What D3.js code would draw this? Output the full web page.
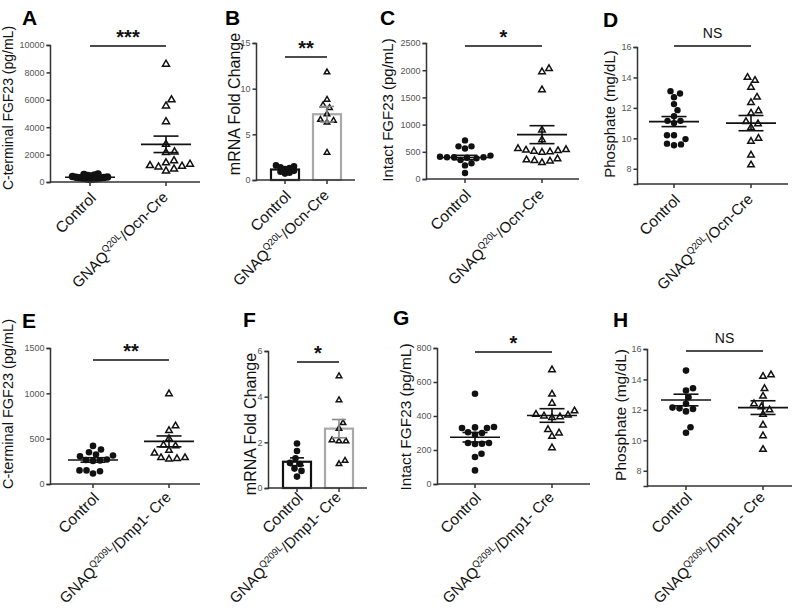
<!DOCTYPE html>
<html>
<head>
<meta charset="utf-8">
<script src="https://cdn.jsdelivr.net/npm/d3@7"></script>
<style>
  body { margin: 0; background: #fff; }
  svg { font-family: "Liberation Sans", Arial, sans-serif; }
</style>
</head>
<body>
<div id="chart"></div>
<script>
// group names (x categories)
var groups = ["Control", "GNAQ"];

// A: C-terminal FGF23, Ocn-Cre
var aControl = [580, 540, 500, 470, 430, 400, 370, 350, 330, 310, 290, 270, 250, 230, 210, 190];
var aGnaq = [8600, 6000, 5550, 4400, 2750, 2200, 2150, 1550, 1400, 1300, 1200, 1150, 1100, 950, 800];
var aMean = [350, 2750], aSem = [30, 600];
var aTicks = [0, 2000, 4000, 6000, 8000, 10000];

// B: mRNA fold change, Ocn-Cre
var bControl = [1.6, 1.5, 1.4, 1.3, 1.2, 1.0, 0.9, 0.8, 0.7];
var bGnaq = [11.8, 8.8, 8.2, 7.9, 7.2, 6.6, 6.5, 6.3, 3.0];
var bMean = [1.15, 7.2], bSem = [0.12, 0.85];
var bTicks = [0, 5, 10, 15];

// C: intact FGF23, Ocn-Cre
var cControl = [710, 600, 600, 560, 430, 410, 400, 400, 400, 390, 380, 350, 290, 250, 110];
var cGnaq = [2030, 1970, 1640, 900, 720, 560, 540, 530, 520, 510, 500, 490, 370, 350, 340, 330, 300];
var cMean = [395, 815], cSem = [40, 165];
var cTicks = [0, 500, 1000, 1500, 2000, 2500];

// D: phosphate, Ocn-Cre
var dControl = [13.1, 12.95, 12.7, 12.25, 11.85, 11.45, 11.15, 11.15, 11.0, 10.2, 10.2, 9.95, 9.65, 9.6, 9.55];
var dGnaq = [14.0, 13.8, 13.35, 12.7, 12.35, 11.8, 11.65, 11.1, 10.95, 10.7, 10.0, 9.8, 8.9, 8.25];
var dMean = [11.1, 11.0], dSem = [0.33, 0.5];
var dTicks = [8, 10, 12, 14, 16];

// E: C-terminal FGF23, Dmp1-Cre
var eControl = [420, 380, 350, 325, 315, 305, 270, 265, 260, 255, 150, 150, 140, 115];
var eGnaq = [995, 640, 590, 500, 430, 420, 370, 340, 290, 290, 280, 275];
var eMean = [265, 470], eSem = [25, 60];
var eTicks = [0, 500, 1000, 1500];

// F: mRNA fold change, Dmp1-Cre
var fControl = [1.95, 1.62, 1.3, 1.1, 1.05, 0.85, 0.75, 0.5];
var fGnaq = [4.9, 3.85, 2.85, 2.6, 2.1, 2.05, 2.05, 1.2, 1.05];
var fMean = [1.15, 2.6], fSem = [0.17, 0.4];
var fTicks = [0, 2, 4, 6];

// G: intact FGF23, Dmp1-Cre
var gControl = [531, 335, 333, 329, 329, 304, 300, 290, 241, 241, 237, 235, 178, 159, 80];
var gGnaq = [672, 528, 475, 430, 410, 405, 400, 395, 390, 320, 300, 280, 213];
var gMean = [275, 403], gSem = [28, 40];
var gTicks = [0, 200, 400, 600, 800];

// H: phosphate, Dmp1-Cre
var hControl = [14.58, 13.42, 13.27, 12.83, 12.4, 12.15, 12.1, 12.06, 11.9, 10.86, 10.5];
var hGnaq = [14.3, 14.2, 13.4, 12.9, 12.4, 12.2, 12.0, 11.7, 11.0, 10.3, 9.4];
var hMean = [12.65, 12.15], hSem = [0.38, 0.45];
var hTicks = [8, 10, 12, 14, 16];

var topLabel = ["GNAQ", "Q20L", "/Ocn-Cre"];
var botLabel = ["GNAQ", "Q209L", "/Dmp1- Cre"];

// layout of each panel
var panels = [
  {key: "A", ctrl: aControl, mut: aGnaq, mean: aMean, sem: aSem, ticks: aTicks, domain: [0, 10000],
   title: "C-terminal FGF23 (pg/mL)", sig: "***", mutLabel: topLabel,
   x0: 50, x1: 200, yTop: 45, yBot: 182, cx: [90, 166], titleSize: 14, tx: 13, ty: 108,
   lx: 22, ly: 25, sigY: 46, r: 3.8, tri: 7, bars: false, gap: 3.4},
  {key: "B", ctrl: bControl, mut: bGnaq, mean: bMean, sem: bSem, ticks: bTicks, domain: [0, 15],
   title: "mRNA Fold Change", sig: "**", mutLabel: topLabel,
   x0: 256, x1: 355, yTop: 43, yBot: 180, cx: [285, 327], titleSize: 16, tx: 240, ty: 104,
   lx: 225, ly: 25, sigY: 57, r: 3.3, tri: 5.5, bars: true, gap: 4.5},
  {key: "C", ctrl: cControl, mut: cGnaq, mean: cMean, sem: cSem, ticks: cTicks, domain: [0, 2500],
   title: "Intact FGF23 (pg/mL)", sig: "*", mutLabel: topLabel,
   x0: 426, x1: 579, yTop: 43, yBot: 179, cx: [465, 542], titleSize: 15, tx: 393, ty: 110,
   lx: 380, ly: 25, sigY: 46, r: 3.2, tri: 6.5, bars: false, gap: 6.8},
  {key: "D", ctrl: dControl, mut: dGnaq, mean: dMean, sem: dSem, ticks: dTicks, domain: [7, 16],
   title: "Phosphate (mg/dL)", sig: "NS", mutLabel: topLabel,
   x0: 637, x1: 788, yTop: 47, yBot: 184, cx: [674, 751], titleSize: 15, tx: 615, ty: 114,
   lx: 603, ly: 27, sigY: 46, r: 3.2, tri: 6.5, bars: false, gap: 6.8},
  {key: "E", ctrl: eControl, mut: eGnaq, mean: eMean, sem: eSem, ticks: eTicks, domain: [0, 1500],
   title: "C-terminal FGF23 (pg/mL)", sig: "**", mutLabel: botLabel,
   x0: 50, x1: 200, yTop: 348, yBot: 484, cx: [93, 169], titleSize: 14.5, tx: 13, ty: 404,
   lx: 22, ly: 328, sigY: 360, r: 3.3, tri: 6.5, bars: false, gap: 7},
  {key: "F", ctrl: fControl, mut: fGnaq, mean: fMean, sem: fSem, ticks: fTicks, domain: [0, 6],
   title: "mRNA Fold Change", sig: "*", mutLabel: botLabel,
   x0: 268, x1: 367, yTop: 351, yBot: 488, cx: [297, 339], titleSize: 16, tx: 256, ty: 424,
   lx: 243, ly: 327, sigY: 362, r: 3.3, tri: 5.5, bars: true, gap: 7},
  {key: "G", ctrl: gControl, mut: gGnaq, mean: gMean, sem: gSem, ticks: gTicks, domain: [0, 800],
   title: "Intact FGF23 (pg/mL)", sig: "*", mutLabel: botLabel,
   x0: 437, x1: 590, yTop: 348, yBot: 484, cx: [475, 552], titleSize: 15.4, tx: 411, ty: 417,
   lx: 393, ly: 325, sigY: 352, r: 3.3, tri: 6.5, bars: false, gap: 7},
  {key: "H", ctrl: hControl, mut: hGnaq, mean: hMean, sem: hSem, ticks: hTicks, domain: [7, 16],
   title: "Phosphate (mg/dL)", sig: "NS", mutLabel: botLabel,
   x0: 647, x1: 792, yTop: 349, yBot: 486, cx: [686, 763], titleSize: 15.5, tx: 626, ty: 415,
   lx: 613, ly: 327, sigY: 351, r: 3.3, tri: 6.5, bars: false, gap: 7}
];

var svg = d3.select("#chart").append("svg")
  .attr("width", 796)
  .attr("height", 610);

// simple beeswarm: lowest points first, pushed sideways until they stop overlapping
function swarm(vals, y, cx, dist) {
  var pts = vals.map(function(v) { return {v: v, y: y(v)}; })
    .sort(function(a, b) { return b.y - a.y; });
  var placed = [];
  pts.forEach(function(p) {
    for (var k = 0; k < 400; k++) {
      var off = (k % 2 ? 1 : -1) * Math.ceil(k / 2) * 0.5;
      var x = cx + off;
      var ok = placed.every(function(q) {
        return (q.x - x) * (q.x - x) + (q.y - p.y) * (q.y - p.y) >= dist * dist;
      });
      if (ok) { p.x = x; break; }
    }
    placed.push(p);
  });
  return placed;
}

panels.forEach(function(p) {
  var g = svg.append("g");
  var y = d3.scaleLinear().domain(p.domain).range([p.yBot, p.yTop]);
  var x = d3.scaleOrdinal().domain(groups).range(p.cx);

  // bars (mRNA panels only)
  if (p.bars) {
    var bw = 28;
    g.selectAll(".bar").data(groups).enter().append("rect")
      .attr("x", function(d) { return x(d) - bw / 2; })
      .attr("y", function(d, i) { return y(p.mean[i]); })
      .attr("width", bw)
      .attr("height", function(d, i) { return y(p.domain[0]) - y(p.mean[i]); })
      .attr("fill", "#fff")
      .attr("stroke", function(d, i) { return i ? "#a8a8a8" : "#111"; })
      .attr("stroke-width", 2.2);
  }

  // points
  var ctrlPts = swarm(p.ctrl, y, x("Control"), p.gap);
  g.selectAll(".dot").data(ctrlPts).enter().append("circle")
    .attr("cx", function(d) { return d.x; })
    .attr("cy", function(d) { return d.y; })
    .attr("r", p.r)
    .attr("fill", "#111");

  var mutPts = swarm(p.mut, y, x("GNAQ"), p.tri + 1.2);
  var tri = d3.symbol().type(d3.symbolTriangle).size(0.433 * p.tri * p.tri);
  g.selectAll(".tri").data(mutPts).enter().append("path")
    .attr("d", tri)
    .attr("transform", function(d) { return "translate(" + d.x + "," + d.y + ")"; })
    .attr("fill", "#fff")
    .attr("stroke", "#111")
    .attr("stroke-width", 1.5);

  // mean and SEM
  groups.forEach(function(gr, i) {
    var cx = x(gr), m = y(p.mean[i]), hi = y(p.mean[i] + p.sem[i]), lo = y(p.mean[i] - p.sem[i]);
    var half = p.bars ? 7 : 25, cap = p.bars ? 7 : 12.5;
    var col = (p.bars && i) ? "#8a8a8a" : "#111";
    if (!p.bars) {
      g.append("line").attr("x1", cx - half).attr("x2", cx + half).attr("y1", m).attr("y2", m)
        .attr("stroke", col).attr("stroke-width", 1.6);
    }
    g.append("line").attr("x1", cx).attr("x2", cx).attr("y1", hi).attr("y2", lo)
      .attr("stroke", col).attr("stroke-width", 1.6);
    [hi, lo].forEach(function(yy) {
      g.append("line").attr("x1", cx - cap).attr("x2", cx + cap).attr("y1", yy).attr("y2", yy)
        .attr("stroke", col).attr("stroke-width", 1.6);
    });
  });

  // y axis
  var yAxis = g.append("g")
    .attr("transform", "translate(" + p.x0 + ",0)")
    .call(d3.axisLeft(y).tickValues(p.ticks).tickSize(3.5).tickPadding(2)
      .tickFormat(function(d) { return String(d); }));
  yAxis.selectAll("path, line").attr("stroke", "#333").attr("stroke-width", 1.5);
  yAxis.selectAll("text").attr("font-size", 9).attr("fill", "#555")
    .attr("font-family", "Liberation Sans, Arial, sans-serif");

  // x axis
  var axY = y(p.domain[0]);
  g.append("line").attr("x1", p.x0).attr("x2", p.x1).attr("y1", axY).attr("y2", axY)
    .attr("stroke", "#333").attr("stroke-width", 1.5);
  g.selectAll(".xt").data(groups).enter().append("line")
    .attr("x1", function(d) { return x(d); }).attr("x2", function(d) { return x(d); })
    .attr("y1", axY).attr("y2", axY + 4)
    .attr("stroke", "#333").attr("stroke-width", 1.5);

  // x labels, rotated (kept inside the page at the bottom row)
  var labY = Math.min(axY + 16, 498);
  g.append("text")
    .attr("transform", "translate(" + (x("Control") + 7) + "," + (labY + 1) + ") rotate(-45)")
    .attr("text-anchor", "end")
    .attr("font-size", 15.5)
    .attr("fill", "#111")
    .text("Control");
  var ml = g.append("text")
    .attr("transform", "translate(" + (x("GNAQ") + 3) + "," + labY + ") rotate(-45)")
    .attr("text-anchor", "end")
    .attr("font-size", 15)
    .attr("fill", "#111");
  ml.append("tspan").text(p.mutLabel[0]);
  ml.append("tspan").attr("font-size", 9.5).attr("dy", -6).text(p.mutLabel[1]);
  ml.append("tspan").attr("dy", 6).text(p.mutLabel[2]);

  // y title
  g.append("text")
    .attr("transform", "translate(" + p.tx + "," + p.ty + ") rotate(-90)")
    .attr("text-anchor", "middle")
    .attr("font-size", p.titleSize)
    .attr("fill", "#111")
    .text(p.title);

  // panel letter
  g.append("text")
    .attr("x", p.lx).attr("y", p.ly)
    .attr("font-size", 21).attr("font-weight", "bold")
    .attr("fill", "#000")
    .text(p.key);

  // significance bar
  g.append("line").attr("x1", p.cx[0]).attr("x2", p.cx[1]).attr("y1", p.sigY).attr("y2", p.sigY)
    .attr("stroke", "#111").attr("stroke-width", 1.5);
  var isNS = p.sig === "NS";
  g.append("text")
    .attr("x", (p.cx[0] + p.cx[1]) / 2)
    .attr("y", isNS ? p.sigY - 8 : p.sigY - 2)
    .attr("text-anchor", "middle")
    .attr("font-size", isNS ? 14 : 20)
    .attr("font-weight", isNS ? "normal" : "bold")
    .attr("fill", "#111")
    .text(p.sig);
});
</script>
</body>
</html>
